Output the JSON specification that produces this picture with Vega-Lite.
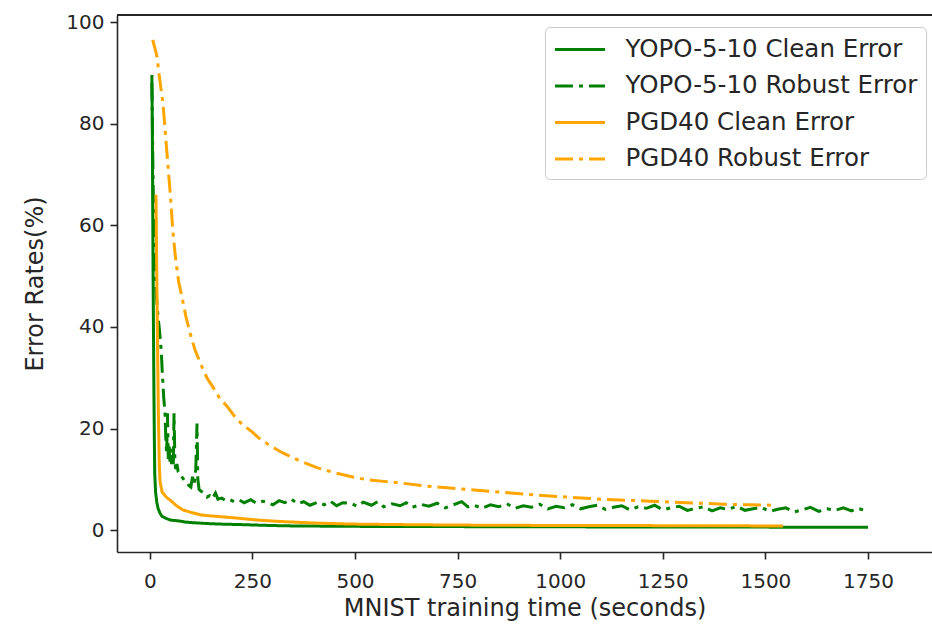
{
  "$schema": "https://vega.github.io/schema/vega-lite/v6.json",
  "width": 815,
  "height": 537,
  "autosize": {"type": "none"},
  "padding": {"left": 117, "top": 15, "right": 0, "bottom": 74},
  "background": "white",
  "config": {
    "view": {"stroke": null},
    "font": "DejaVu Sans",
    "axis": {
      "labelFont": "DejaVu Sans", "titleFont": "DejaVu Sans",
      "labelFontSize": 20, "titleFontSize": 24, "titleFontWeight": "normal",
      "labelColor": "#262626", "titleColor": "#262626",
      "domainColor": "#262626", "domainWidth": 1.6,
      "tickColor": "#262626", "tickWidth": 1.6, "tickSize": 7,
      "labelPadding": 6, "grid": false
    },
    "legend": {
      "orient": "none", "legendX": 428, "legendY": 12,
      "labelFont": "DejaVu Sans", "labelFontSize": 24.5, "labelColor": "#262626",
      "symbolType": "M-1,0H3", "symbolSize": 625, "symbolStrokeWidth": 3,
      "labelOffset": 44, "rowPadding": 10.5, "padding": 8.5,
      "strokeColor": "#cccccc", "fillColor": "white", "cornerRadius": 5,
      "labelLimit": 400
    }
  },
  "data": {"values": [
    {"series": "YOPO-5-10 Clean Error", "t": 5, "err": 89.6},
    {"series": "YOPO-5-10 Clean Error", "t": 6, "err": 80},
    {"series": "YOPO-5-10 Clean Error", "t": 7, "err": 65},
    {"series": "YOPO-5-10 Clean Error", "t": 8, "err": 50},
    {"series": "YOPO-5-10 Clean Error", "t": 9, "err": 38},
    {"series": "YOPO-5-10 Clean Error", "t": 10, "err": 27},
    {"series": "YOPO-5-10 Clean Error", "t": 11, "err": 18},
    {"series": "YOPO-5-10 Clean Error", "t": 12, "err": 11},
    {"series": "YOPO-5-10 Clean Error", "t": 14, "err": 7.5},
    {"series": "YOPO-5-10 Clean Error", "t": 17, "err": 5.5},
    {"series": "YOPO-5-10 Clean Error", "t": 20, "err": 4.3},
    {"series": "YOPO-5-10 Clean Error", "t": 25, "err": 3.3},
    {"series": "YOPO-5-10 Clean Error", "t": 30, "err": 2.7},
    {"series": "YOPO-5-10 Clean Error", "t": 40, "err": 2.3},
    {"series": "YOPO-5-10 Clean Error", "t": 50, "err": 2.0},
    {"series": "YOPO-5-10 Clean Error", "t": 60, "err": 1.9},
    {"series": "YOPO-5-10 Clean Error", "t": 73, "err": 1.8},
    {"series": "YOPO-5-10 Clean Error", "t": 85, "err": 1.6},
    {"series": "YOPO-5-10 Clean Error", "t": 100, "err": 1.5},
    {"series": "YOPO-5-10 Clean Error", "t": 120, "err": 1.4},
    {"series": "YOPO-5-10 Clean Error", "t": 140, "err": 1.3},
    {"series": "YOPO-5-10 Clean Error", "t": 170, "err": 1.2},
    {"series": "YOPO-5-10 Clean Error", "t": 220, "err": 1.1},
    {"series": "YOPO-5-10 Clean Error", "t": 280, "err": 0.95},
    {"series": "YOPO-5-10 Clean Error", "t": 330, "err": 0.85},
    {"series": "YOPO-5-10 Clean Error", "t": 400, "err": 0.8},
    {"series": "YOPO-5-10 Clean Error", "t": 500, "err": 0.75},
    {"series": "YOPO-5-10 Clean Error", "t": 600, "err": 0.7},
    {"series": "YOPO-5-10 Clean Error", "t": 750, "err": 0.7},
    {"series": "YOPO-5-10 Clean Error", "t": 900, "err": 0.65},
    {"series": "YOPO-5-10 Clean Error", "t": 1050, "err": 0.65},
    {"series": "YOPO-5-10 Clean Error", "t": 1200, "err": 0.6},
    {"series": "YOPO-5-10 Clean Error", "t": 1350, "err": 0.6},
    {"series": "YOPO-5-10 Clean Error", "t": 1500, "err": 0.6},
    {"series": "YOPO-5-10 Clean Error", "t": 1600, "err": 0.55},
    {"series": "YOPO-5-10 Clean Error", "t": 1750, "err": 0.55},

    {"series": "YOPO-5-10 Robust Error", "t": 5, "err": 88},
    {"series": "YOPO-5-10 Robust Error", "t": 7, "err": 75},
    {"series": "YOPO-5-10 Robust Error", "t": 9, "err": 62},
    {"series": "YOPO-5-10 Robust Error", "t": 12, "err": 52},
    {"series": "YOPO-5-10 Robust Error", "t": 16, "err": 46},
    {"series": "YOPO-5-10 Robust Error", "t": 20, "err": 42},
    {"series": "YOPO-5-10 Robust Error", "t": 24, "err": 39},
    {"series": "YOPO-5-10 Robust Error", "t": 28, "err": 35},
    {"series": "YOPO-5-10 Robust Error", "t": 31, "err": 30},
    {"series": "YOPO-5-10 Robust Error", "t": 34, "err": 26},
    {"series": "YOPO-5-10 Robust Error", "t": 37, "err": 23},
    {"series": "YOPO-5-10 Robust Error", "t": 39, "err": 18},
    {"series": "YOPO-5-10 Robust Error", "t": 41, "err": 15},
    {"series": "YOPO-5-10 Robust Error", "t": 43, "err": 23},
    {"series": "YOPO-5-10 Robust Error", "t": 45, "err": 14},
    {"series": "YOPO-5-10 Robust Error", "t": 47, "err": 17},
    {"series": "YOPO-5-10 Robust Error", "t": 49, "err": 13.5},
    {"series": "YOPO-5-10 Robust Error", "t": 51, "err": 16},
    {"series": "YOPO-5-10 Robust Error", "t": 53, "err": 13},
    {"series": "YOPO-5-10 Robust Error", "t": 55, "err": 15},
    {"series": "YOPO-5-10 Robust Error", "t": 57, "err": 12.5},
    {"series": "YOPO-5-10 Robust Error", "t": 59, "err": 23},
    {"series": "YOPO-5-10 Robust Error", "t": 61, "err": 14},
    {"series": "YOPO-5-10 Robust Error", "t": 63, "err": 12},
    {"series": "YOPO-5-10 Robust Error", "t": 66, "err": 13},
    {"series": "YOPO-5-10 Robust Error", "t": 69, "err": 11.5},
    {"series": "YOPO-5-10 Robust Error", "t": 73, "err": 11.2},
    {"series": "YOPO-5-10 Robust Error", "t": 78, "err": 10.5},
    {"series": "YOPO-5-10 Robust Error", "t": 84, "err": 9.8},
    {"series": "YOPO-5-10 Robust Error", "t": 90, "err": 9.5},
    {"series": "YOPO-5-10 Robust Error", "t": 95, "err": 8.8},
    {"series": "YOPO-5-10 Robust Error", "t": 100, "err": 8.5},
    {"series": "YOPO-5-10 Robust Error", "t": 104, "err": 10.5},
    {"series": "YOPO-5-10 Robust Error", "t": 108, "err": 9},
    {"series": "YOPO-5-10 Robust Error", "t": 112, "err": 12},
    {"series": "YOPO-5-10 Robust Error", "t": 115, "err": 21},
    {"series": "YOPO-5-10 Robust Error", "t": 117, "err": 10},
    {"series": "YOPO-5-10 Robust Error", "t": 120, "err": 8},
    {"series": "YOPO-5-10 Robust Error", "t": 126, "err": 7.6},
    {"series": "YOPO-5-10 Robust Error", "t": 132, "err": 7.0},
    {"series": "YOPO-5-10 Robust Error", "t": 139, "err": 6.5},
    {"series": "YOPO-5-10 Robust Error", "t": 146, "err": 6.8},
    {"series": "YOPO-5-10 Robust Error", "t": 152, "err": 6.2},
    {"series": "YOPO-5-10 Robust Error", "t": 160, "err": 7.3},
    {"series": "YOPO-5-10 Robust Error", "t": 166, "err": 6.1},
    {"series": "YOPO-5-10 Robust Error", "t": 175, "err": 6.3},
    {"series": "YOPO-5-10 Robust Error", "t": 185, "err": 5.8},
    {"series": "YOPO-5-10 Robust Error", "t": 195, "err": 6.0},
    {"series": "YOPO-5-10 Robust Error", "t": 205, "err": 5.6},
    {"series": "YOPO-5-10 Robust Error", "t": 219, "err": 5.9},
    {"series": "YOPO-5-10 Robust Error", "t": 230, "err": 5.4},
    {"series": "YOPO-5-10 Robust Error", "t": 246, "err": 6.0},
    {"series": "YOPO-5-10 Robust Error", "t": 260, "err": 5.3},
    {"series": "YOPO-5-10 Robust Error", "t": 275, "err": 5.7},
    {"series": "YOPO-5-10 Robust Error", "t": 285, "err": 5.5},
    {"series": "YOPO-5-10 Robust Error", "t": 300, "err": 5.0},
    {"series": "YOPO-5-10 Robust Error", "t": 315, "err": 5.8},
    {"series": "YOPO-5-10 Robust Error", "t": 329, "err": 5.4},
    {"series": "YOPO-5-10 Robust Error", "t": 345, "err": 6.1},
    {"series": "YOPO-5-10 Robust Error", "t": 360, "err": 5.2},
    {"series": "YOPO-5-10 Robust Error", "t": 375, "err": 5.6},
    {"series": "YOPO-5-10 Robust Error", "t": 390, "err": 4.9},
    {"series": "YOPO-5-10 Robust Error", "t": 409, "err": 5.5},
    {"series": "YOPO-5-10 Robust Error", "t": 425, "err": 5.0},
    {"series": "YOPO-5-10 Robust Error", "t": 440, "err": 5.7},
    {"series": "YOPO-5-10 Robust Error", "t": 455, "err": 4.8},
    {"series": "YOPO-5-10 Robust Error", "t": 470, "err": 5.4},
    {"series": "YOPO-5-10 Robust Error", "t": 490, "err": 5.3},
    {"series": "YOPO-5-10 Robust Error", "t": 505, "err": 4.7},
    {"series": "YOPO-5-10 Robust Error", "t": 520, "err": 5.5},
    {"series": "YOPO-5-10 Robust Error", "t": 540, "err": 4.9},
    {"series": "YOPO-5-10 Robust Error", "t": 555, "err": 5.6},
    {"series": "YOPO-5-10 Robust Error", "t": 570, "err": 4.6},
    {"series": "YOPO-5-10 Robust Error", "t": 590, "err": 5.2},
    {"series": "YOPO-5-10 Robust Error", "t": 610, "err": 4.8},
    {"series": "YOPO-5-10 Robust Error", "t": 625, "err": 5.4},
    {"series": "YOPO-5-10 Robust Error", "t": 640, "err": 4.5},
    {"series": "YOPO-5-10 Robust Error", "t": 660, "err": 5.1},
    {"series": "YOPO-5-10 Robust Error", "t": 680, "err": 4.7},
    {"series": "YOPO-5-10 Robust Error", "t": 700, "err": 5.3},
    {"series": "YOPO-5-10 Robust Error", "t": 720, "err": 4.4},
    {"series": "YOPO-5-10 Robust Error", "t": 740, "err": 5.0},
    {"series": "YOPO-5-10 Robust Error", "t": 760, "err": 5.6},
    {"series": "YOPO-5-10 Robust Error", "t": 775, "err": 4.6},
    {"series": "YOPO-5-10 Robust Error", "t": 790, "err": 4.9},
    {"series": "YOPO-5-10 Robust Error", "t": 810, "err": 4.3},
    {"series": "YOPO-5-10 Robust Error", "t": 830, "err": 5.0},
    {"series": "YOPO-5-10 Robust Error", "t": 850, "err": 4.6},
    {"series": "YOPO-5-10 Robust Error", "t": 870, "err": 5.2},
    {"series": "YOPO-5-10 Robust Error", "t": 890, "err": 4.3},
    {"series": "YOPO-5-10 Robust Error", "t": 910, "err": 4.8},
    {"series": "YOPO-5-10 Robust Error", "t": 930, "err": 4.5},
    {"series": "YOPO-5-10 Robust Error", "t": 950, "err": 5.1},
    {"series": "YOPO-5-10 Robust Error", "t": 970, "err": 4.2},
    {"series": "YOPO-5-10 Robust Error", "t": 990, "err": 4.7},
    {"series": "YOPO-5-10 Robust Error", "t": 1010, "err": 4.4},
    {"series": "YOPO-5-10 Robust Error", "t": 1030, "err": 5.0},
    {"series": "YOPO-5-10 Robust Error", "t": 1050, "err": 4.2},
    {"series": "YOPO-5-10 Robust Error", "t": 1070, "err": 4.6},
    {"series": "YOPO-5-10 Robust Error", "t": 1090, "err": 4.9},
    {"series": "YOPO-5-10 Robust Error", "t": 1110, "err": 4.1},
    {"series": "YOPO-5-10 Robust Error", "t": 1130, "err": 4.5},
    {"series": "YOPO-5-10 Robust Error", "t": 1150, "err": 4.8},
    {"series": "YOPO-5-10 Robust Error", "t": 1170, "err": 4.0},
    {"series": "YOPO-5-10 Robust Error", "t": 1190, "err": 4.6},
    {"series": "YOPO-5-10 Robust Error", "t": 1210, "err": 4.3},
    {"series": "YOPO-5-10 Robust Error", "t": 1230, "err": 4.9},
    {"series": "YOPO-5-10 Robust Error", "t": 1250, "err": 4.0},
    {"series": "YOPO-5-10 Robust Error", "t": 1270, "err": 4.4},
    {"series": "YOPO-5-10 Robust Error", "t": 1290, "err": 4.7},
    {"series": "YOPO-5-10 Robust Error", "t": 1310, "err": 3.9},
    {"series": "YOPO-5-10 Robust Error", "t": 1330, "err": 4.3},
    {"series": "YOPO-5-10 Robust Error", "t": 1350, "err": 4.6},
    {"series": "YOPO-5-10 Robust Error", "t": 1370, "err": 3.8},
    {"series": "YOPO-5-10 Robust Error", "t": 1390, "err": 4.4},
    {"series": "YOPO-5-10 Robust Error", "t": 1410, "err": 4.1},
    {"series": "YOPO-5-10 Robust Error", "t": 1430, "err": 4.7},
    {"series": "YOPO-5-10 Robust Error", "t": 1450, "err": 3.9},
    {"series": "YOPO-5-10 Robust Error", "t": 1470, "err": 4.2},
    {"series": "YOPO-5-10 Robust Error", "t": 1490, "err": 4.5},
    {"series": "YOPO-5-10 Robust Error", "t": 1510, "err": 3.7},
    {"series": "YOPO-5-10 Robust Error", "t": 1530, "err": 4.1},
    {"series": "YOPO-5-10 Robust Error", "t": 1550, "err": 4.4},
    {"series": "YOPO-5-10 Robust Error", "t": 1570, "err": 3.6},
    {"series": "YOPO-5-10 Robust Error", "t": 1590, "err": 4.0},
    {"series": "YOPO-5-10 Robust Error", "t": 1610, "err": 4.5},
    {"series": "YOPO-5-10 Robust Error", "t": 1630, "err": 3.7},
    {"series": "YOPO-5-10 Robust Error", "t": 1650, "err": 4.2},
    {"series": "YOPO-5-10 Robust Error", "t": 1670, "err": 3.9},
    {"series": "YOPO-5-10 Robust Error", "t": 1690, "err": 4.4},
    {"series": "YOPO-5-10 Robust Error", "t": 1710, "err": 3.8},
    {"series": "YOPO-5-10 Robust Error", "t": 1725, "err": 4.3},
    {"series": "YOPO-5-10 Robust Error", "t": 1738, "err": 4.0},

    {"series": "PGD40 Clean Error", "t": 15, "err": 66},
    {"series": "PGD40 Clean Error", "t": 17, "err": 50},
    {"series": "PGD40 Clean Error", "t": 19, "err": 35},
    {"series": "PGD40 Clean Error", "t": 21, "err": 22},
    {"series": "PGD40 Clean Error", "t": 23, "err": 13},
    {"series": "PGD40 Clean Error", "t": 25, "err": 9.5},
    {"series": "PGD40 Clean Error", "t": 30, "err": 7.5},
    {"series": "PGD40 Clean Error", "t": 40, "err": 6.5},
    {"series": "PGD40 Clean Error", "t": 50, "err": 5.9},
    {"series": "PGD40 Clean Error", "t": 65, "err": 4.8},
    {"series": "PGD40 Clean Error", "t": 80, "err": 4.0},
    {"series": "PGD40 Clean Error", "t": 100, "err": 3.5},
    {"series": "PGD40 Clean Error", "t": 124, "err": 3.0},
    {"series": "PGD40 Clean Error", "t": 150, "err": 2.8},
    {"series": "PGD40 Clean Error", "t": 180, "err": 2.6},
    {"series": "PGD40 Clean Error", "t": 210, "err": 2.4},
    {"series": "PGD40 Clean Error", "t": 260, "err": 2.0},
    {"series": "PGD40 Clean Error", "t": 320, "err": 1.7},
    {"series": "PGD40 Clean Error", "t": 400, "err": 1.4},
    {"series": "PGD40 Clean Error", "t": 490, "err": 1.2},
    {"series": "PGD40 Clean Error", "t": 600, "err": 1.1},
    {"series": "PGD40 Clean Error", "t": 750, "err": 1.0},
    {"series": "PGD40 Clean Error", "t": 900, "err": 0.95},
    {"series": "PGD40 Clean Error", "t": 1050, "err": 0.9},
    {"series": "PGD40 Clean Error", "t": 1200, "err": 0.9},
    {"series": "PGD40 Clean Error", "t": 1350, "err": 0.85},
    {"series": "PGD40 Clean Error", "t": 1450, "err": 0.85},
    {"series": "PGD40 Clean Error", "t": 1543, "err": 0.8},

    {"series": "PGD40 Robust Error", "t": 7, "err": 96.5},
    {"series": "PGD40 Robust Error", "t": 12, "err": 95},
    {"series": "PGD40 Robust Error", "t": 18, "err": 93},
    {"series": "PGD40 Robust Error", "t": 22, "err": 90},
    {"series": "PGD40 Robust Error", "t": 27, "err": 87},
    {"series": "PGD40 Robust Error", "t": 32, "err": 84},
    {"series": "PGD40 Robust Error", "t": 38, "err": 78},
    {"series": "PGD40 Robust Error", "t": 44, "err": 72},
    {"series": "PGD40 Robust Error", "t": 50, "err": 66},
    {"series": "PGD40 Robust Error", "t": 56, "err": 59},
    {"series": "PGD40 Robust Error", "t": 62, "err": 54},
    {"series": "PGD40 Robust Error", "t": 70, "err": 49},
    {"series": "PGD40 Robust Error", "t": 78, "err": 46},
    {"series": "PGD40 Robust Error", "t": 88, "err": 42},
    {"series": "PGD40 Robust Error", "t": 98, "err": 38.8},
    {"series": "PGD40 Robust Error", "t": 110, "err": 35.5},
    {"series": "PGD40 Robust Error", "t": 125, "err": 32.5},
    {"series": "PGD40 Robust Error", "t": 139, "err": 30},
    {"series": "PGD40 Robust Error", "t": 155, "err": 28},
    {"series": "PGD40 Robust Error", "t": 170, "err": 26},
    {"series": "PGD40 Robust Error", "t": 190, "err": 24.2},
    {"series": "PGD40 Robust Error", "t": 210, "err": 22},
    {"series": "PGD40 Robust Error", "t": 230, "err": 20.5},
    {"series": "PGD40 Robust Error", "t": 250, "err": 19.3},
    {"series": "PGD40 Robust Error", "t": 263, "err": 18.3},
    {"series": "PGD40 Robust Error", "t": 290, "err": 16.8},
    {"series": "PGD40 Robust Error", "t": 324, "err": 15.2},
    {"series": "PGD40 Robust Error", "t": 366, "err": 13.6},
    {"series": "PGD40 Robust Error", "t": 407, "err": 12.3},
    {"series": "PGD40 Robust Error", "t": 450, "err": 11.3},
    {"series": "PGD40 Robust Error", "t": 487, "err": 10.6},
    {"series": "PGD40 Robust Error", "t": 524, "err": 10.0},
    {"series": "PGD40 Robust Error", "t": 570, "err": 9.6},
    {"series": "PGD40 Robust Error", "t": 609, "err": 9.3},
    {"series": "PGD40 Robust Error", "t": 670, "err": 8.7},
    {"series": "PGD40 Robust Error", "t": 731, "err": 8.3},
    {"series": "PGD40 Robust Error", "t": 790, "err": 7.9},
    {"series": "PGD40 Robust Error", "t": 853, "err": 7.5},
    {"series": "PGD40 Robust Error", "t": 910, "err": 7.1},
    {"series": "PGD40 Robust Error", "t": 975, "err": 6.7},
    {"series": "PGD40 Robust Error", "t": 1040, "err": 6.4},
    {"series": "PGD40 Robust Error", "t": 1097, "err": 6.1},
    {"series": "PGD40 Robust Error", "t": 1160, "err": 5.9},
    {"series": "PGD40 Robust Error", "t": 1219, "err": 5.7},
    {"series": "PGD40 Robust Error", "t": 1280, "err": 5.5},
    {"series": "PGD40 Robust Error", "t": 1340, "err": 5.3},
    {"series": "PGD40 Robust Error", "t": 1400, "err": 5.1},
    {"series": "PGD40 Robust Error", "t": 1460, "err": 5.0},
    {"series": "PGD40 Robust Error", "t": 1528, "err": 4.9}
  ]},
  "layer": [
    {
      "mark": {"type": "line", "strokeWidth": 3, "strokeCap": "butt", "clip": true},
      "encoding": {
        "x": {
          "field": "t", "type": "quantitative",
          "scale": {"domain": [-80, 1906], "nice": false, "zero": false},
          "axis": {"values": [0, 250, 500, 750, 1000, 1250, 1500, 1750], "format": "d", "title": "MNIST training time (seconds)", "labelPadding": 12, "titlePadding": 5}
        },
        "y": {
          "field": "err", "type": "quantitative",
          "scale": {"domain": [-4.3, 101.4], "nice": false, "zero": false},
          "axis": {"values": [0, 20, 40, 60, 80, 100], "format": "d", "title": "Error Rates(%)", "titlePadding": 18}
        },
        "color": {
          "field": "series", "type": "nominal",
          "scale": {
            "domain": ["YOPO-5-10 Clean Error", "YOPO-5-10 Robust Error", "PGD40 Clean Error", "PGD40 Robust Error"],
            "range": ["#008000", "#008000", "#FFA500", "#FFA500"]
          },
          "legend": {"title": null}
        },
        "strokeDash": {
          "field": "series", "type": "nominal",
          "scale": {
            "domain": ["YOPO-5-10 Clean Error", "YOPO-5-10 Robust Error", "PGD40 Clean Error", "PGD40 Robust Error"],
            "range": [[1, 0], [18, 6, 4, 6], [1, 0], [18, 6, 4, 6]]
          },
          "legend": {"title": null}
        }
      }
    },
    {
      "mark": {"type": "rule", "color": "#262626", "strokeWidth": 1.6},
      "encoding": {"y": {"datum": 101.4}}
    }
  ]
}
